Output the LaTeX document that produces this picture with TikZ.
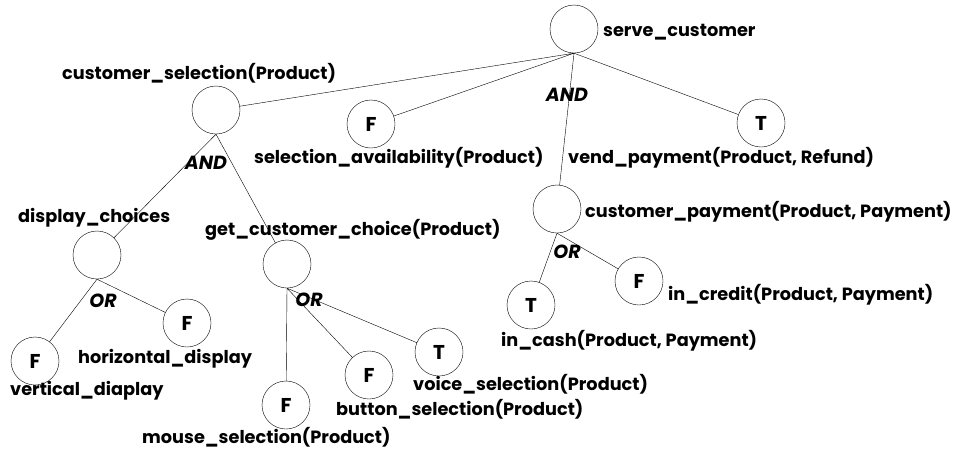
\documentclass[tikz,border=0pt]{standalone}
\usepackage{fontspec}
\setmainfont{Poppins}
\begin{document}
\begin{tikzpicture}[x=1pt,y=-1pt, line join=round, line cap=round,
 goal/.style={draw,circle,minimum size=48pt,inner sep=0pt,font=\fontsize{20}{22}\selectfont\bfseries},
 lbl/.style={anchor=west,inner sep=0pt,font=\fontsize{17.7}{20}\selectfont\bfseries},
 gate/.style={inner sep=0pt,font=\fontsize{19}{21}\selectfont\bfseries\itshape}]
 			\useasboundingbox (0,0) rectangle (956,448);
 			% goals
 			\node[goal] (serve) at (574,29) {};
 			\node[goal] (csel) at (216,110) {};
 			\node[goal] (selav) at (371,124) {F};
 			\node[goal] (vend) at (761,123) {T};
 			\node[goal] (cpay) at (557,209) {};
 			\node[goal] (cash) at (531,305) {T};
 			\node[goal] (credit) at (639,281) {F};
 			\node[goal] (dchoice) at (97,255) {};
 			\node[goal] (gchoice) at (287,264) {};
 			\node[goal] (vert) at (35,361) {F};
 			\node[goal] (horiz) at (187,323) {F};
 			\node[goal] (mouse) at (286,405) {F};
 			\node[goal] (button) at (369,375) {F};
 			\node[goal] (voice) at (439,352) {T};
 			% labels
 			\node[lbl] (serveL) at (603,32) {serve\_customer};
 			\node[lbl] (cselL) at (62,73) {customer\_selection(Product)};
 			\node[lbl] (selavL) at (254,158) {selection\_availability(Product)};
 			\node[lbl] (vendL) at (568,158) {vend\_payment(Product, Refund)};
 			\node[lbl] (cpayL) at (585,212) {customer\_payment(Product, Payment)};
 			\node[lbl] (cashL) at (501,341) {in\_cash(Product, Payment)};
 			\node[lbl] (creditL) at (668,295) {in\_credit(Product, Payment)};
 			\node[lbl] (dchoiceL) at (18,218) {display\_choices};
 			\node[lbl] (gchoiceL) at (205,230) {get\_customer\_choice(Product)};
 			\node[lbl] (vertL) at (10,391) {vertical\_diaplay};
 			\node[lbl] (horizL) at (78,359) {horizontal\_display};
 			\node[lbl] (mouseL) at (142,437) {mouse\_selection(Product)};
 			\node[lbl] (buttonL) at (336,409) {button\_selection(Product)};
 			\node[lbl] (voiceL) at (413,384) {voice\_selection(Product)};
 			% decompositions
 			\node[gate] (and1) at (567,95) {AND};
 			\node[gate] (and2) at (206,163) {AND};
 			\node[gate] (or1) at (103,301) {OR};
 			\node[gate] (or2) at (309,300) {OR};
 			\node[gate] (or3) at (567,252) {OR};
 			\draw (serve.south)--(csel) (serve.south)--(selav) (serve.south)--(cpay) (serve.south)--(vend);
 			\draw (csel.south)--(dchoice) (csel.south)--(gchoice);
 			\draw (dchoice.south)--(vert) (dchoice.south)--(horiz);
 			\draw (gchoice.south)--(mouse) (gchoice.south)--(button) (gchoice.south)--(voice);
 			\draw (cpay.south)--(cash) (cpay.south)--(credit);
 		\end{tikzpicture}
\end{document}
